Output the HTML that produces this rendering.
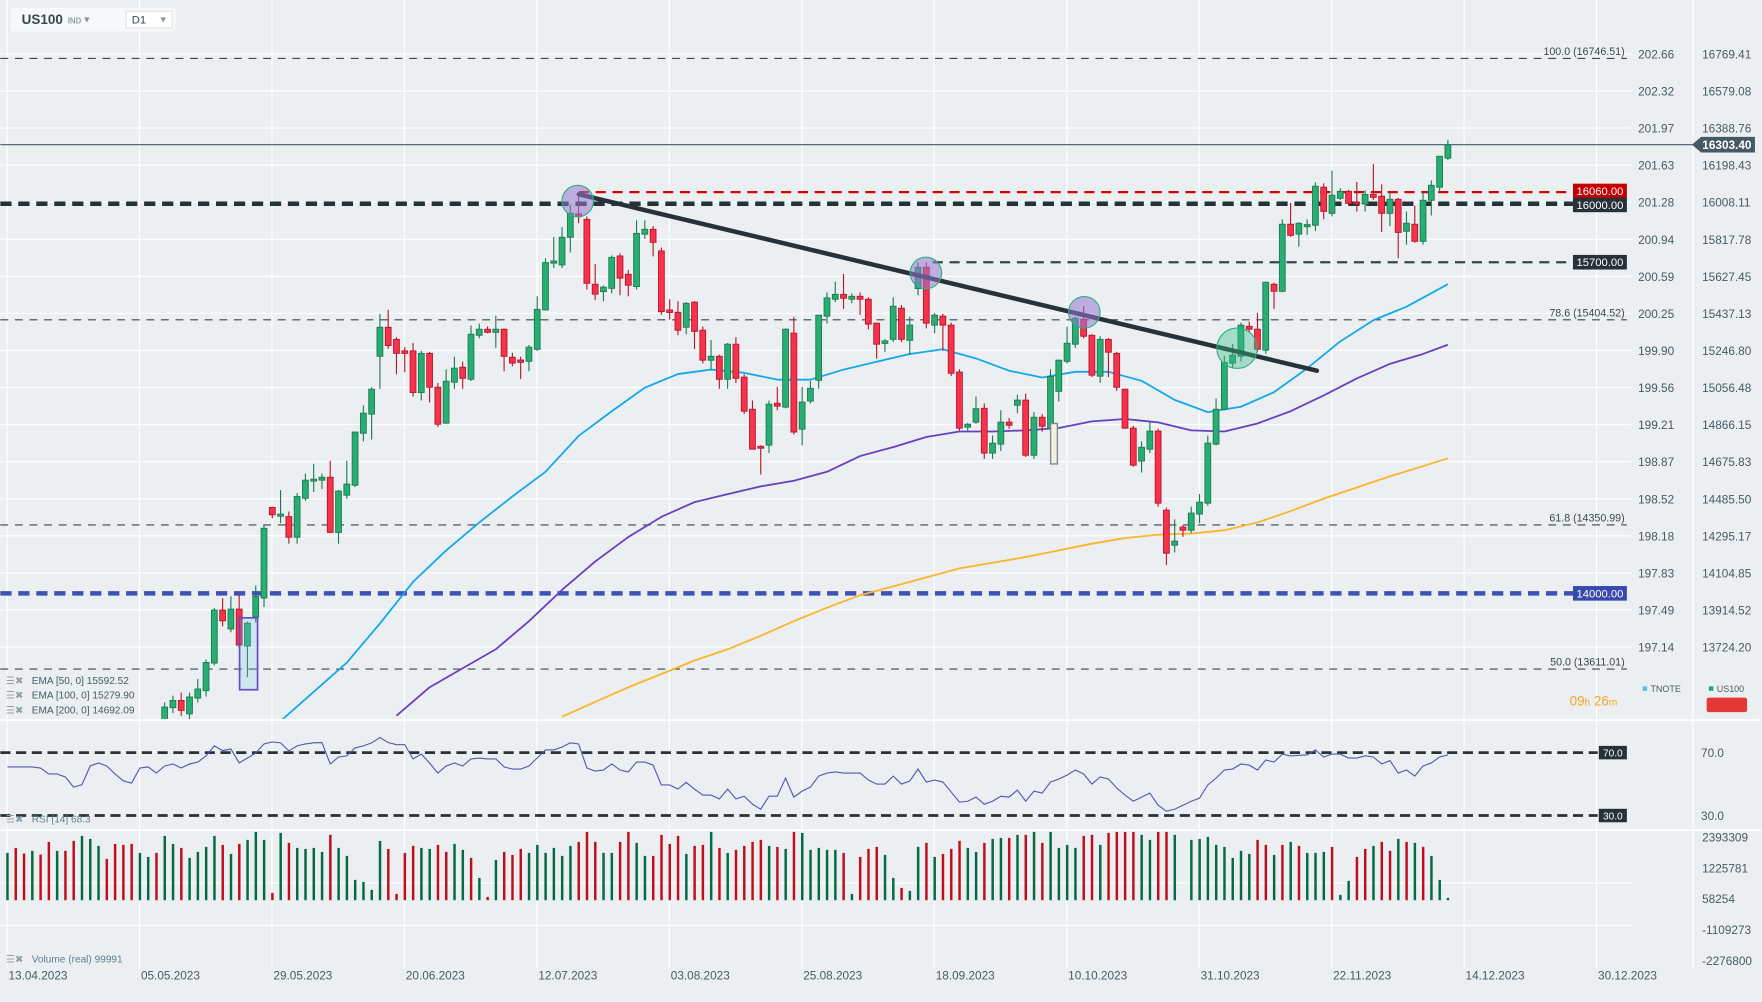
<!DOCTYPE html>
<html><head><meta charset="utf-8">
<style>
html,body{margin:0;padding:0;background:#eceff2;}
svg{display:block;font-family:"Liberation Sans",sans-serif;}
</style></head>
<body>
<svg id="chart" width="1762" height="1002" viewBox="0 0 1568 892" xmlns="http://www.w3.org/2000/svg">
<rect x="0" y="0" width="1568" height="892" fill="#eceff2"/>
<defs>
<clipPath id="mainClip"><rect x="0" y="0" width="1452" height="640"/></clipPath>
</defs>
<g id="grid"></g>
<g id="levels"></g>
<g id="emas" clip-path="url(#mainClip)"></g>
<g id="candles" clip-path="url(#mainClip)"></g>
<g id="annot">
  <line x1="515" y1="173" x2="1172" y2="330" stroke="#263238" stroke-width="4" stroke-linecap="round"/>
  <circle cx="514" cy="179" r="14" fill="rgba(150,120,210,0.55)" stroke="#2bb07f" stroke-width="1"/>
  <circle cx="824" cy="243" r="14" fill="rgba(150,120,210,0.55)" stroke="#2bb07f" stroke-width="1"/>
  <circle cx="965" cy="278" r="14" fill="rgba(150,120,210,0.55)" stroke="#2bb07f" stroke-width="1"/>
  <circle cx="1101" cy="310" r="18" fill="rgba(60,190,140,0.4)" stroke="#2bb07f" stroke-width="1"/>
  <rect x="213" y="550" width="16" height="64" fill="rgba(120,200,230,0.25)" stroke="#6a48c0" stroke-width="1.5"/>
  <rect x="935" y="377" width="6" height="36" fill="#f3f0dc" stroke="#7a8890" stroke-width="1.2"/>
</g>
<g id="rsi"></g>
<g id="volume"></g>
<g id="axes"></g>
<g>
  <rect x="9" y="7" width="147" height="21" rx="2" fill="#f7f8f9"/>
  <text x="19" y="21.5" font-size="12" font-weight="bold" fill="#37474f">US100</text>
  <text x="60" y="21" font-size="7" font-weight="bold" fill="#90a0a8">IND</text>
  <text x="73" y="20" font-size="8" fill="#8a959b">▼</text>
  <rect x="112" y="10" width="41" height="15" fill="#fff" stroke="#dde2e6"/>
  <text x="117" y="21" font-size="10" fill="#37474f">D1</text>
  <text x="141" y="20" font-size="8" fill="#8a959b">▼</text>
</g>
<g font-size="9" fill="#455a64">
  <text x="5" y="609" fill="#90a0a8">☰✖</text><text x="28" y="609">EMA [50, 0] 15592.52</text>
  <text x="5" y="622" fill="#90a0a8">☰✖</text><text x="28" y="622">EMA [100, 0] 15279.90</text>
  <text x="5" y="635" fill="#90a0a8">☰✖</text><text x="28" y="635">EMA [200, 0] 14692.09</text>
</g>
<g>
  <rect x="1462" y="611" width="4" height="4" fill="#4fc3f7"/>
  <text x="1469" y="616" font-size="8" fill="#455a64">TNOTE</text>
  <rect x="1521" y="611" width="4" height="4" fill="#1fa971"/>
  <text x="1528" y="616" font-size="8" fill="#455a64">US100</text>
  <rect x="1519" y="621" width="36" height="13" rx="2" fill="#e53935"/>
  <text x="1397" y="628" font-size="12" fill="#f5a623">09<tspan font-size="9">h</tspan> 26<tspan font-size="9">m</tspan></text>
</g>
<text x="28" y="732" font-size="9" fill="#607d8b">RSI [14] 68.3</text>
<text x="5" y="732" font-size="9" fill="#90a0a8">☰✖</text>
<text x="28" y="857" font-size="9" fill="#607d8b">Volume (real) 99991</text>
<text x="5" y="857" font-size="9" fill="#90a0a8">☰✖</text>
</svg>
<script>
// ---- data ----
const candleOpen = [13338,13413,13450,13381,13462,13500,13642,13914,13817,13919,13729,13878,13976,14441,14396,14394,14288,14488,14576,14581,14596,14313,14504,14555,14822,14920,15217,15366,15304,15245,15245,15031,15232,15058,14874,15084,15161,15099,15325,15356,15340,15356,15212,15198,15191,15253,15455,15695,15686,15828,15948,15920,15587,15549,15566,15732,15638,15575,15844,15869,15758,15455,15443,15366,15495,15351,15197,15217,15099,15279,15110,14945,14755,14761,14976,14956,15336,14843,14987,15094,15423,15510,15535,15510,15525,15510,15387,15283,15304,15464,15299,15565,15674,15377,15423,15377,15136,14853,14879,14950,14720,14766,14879,14966,14992,14709,14904,14848,15037,15191,15279,15407,15325,15115,15304,15232,15048,14848,14679,14740,14833,14427,14247,14340,14324,14407,14463,14766,14945,15182,15217,15371,15356,15248,15587,15551,15895,15844,15882,15890,16085,15951,16028,16064,16008,15999,16048,16039,15951,16023,15859,15895,15807,16018,16085,16234];
const candleClose = [13416,13450,13399,13468,13509,13645,13914,13859,13919,13734,13847,13984,14334,14403,14407,14288,14497,14581,14586,14596,14313,14525,14561,14828,14925,15048,15366,15272,15232,15232,15031,15232,15058,14868,15089,15156,15104,15330,15356,15340,15356,15217,15182,15186,15264,15458,15698,15706,15828,15951,15934,15592,15536,15572,15725,15618,15582,15848,15869,15802,15446,15442,15351,15489,15345,15197,15217,15099,15279,15104,14935,14740,14745,14971,14961,15356,14828,14982,15053,15428,15517,15535,15515,15525,15510,15382,15279,15296,15474,15304,15377,15674,15387,15428,15377,15130,14848,14868,14948,14720,14771,14879,14863,14992,14709,14904,14858,15113,15197,15284,15412,15320,15120,15304,15238,15058,14848,14658,14750,14833,14463,14206,14268,14324,14412,14468,14771,14945,15186,15223,15377,15356,15253,15597,15551,15895,15838,15900,15893,16090,15961,16044,16064,16002,15999,16048,16033,15951,16023,15853,15900,15807,16018,16095,16244,16303];
const candleHigh = [13440,13475,13490,13490,13560,13660,13925,13975,13985,13995,13855,14040,14350,14445,14530,14420,14515,14615,14665,14615,14680,14530,14680,14830,14965,15058,15435,15455,15315,15265,15285,15245,15240,15080,15150,15215,15190,15375,15385,15370,15425,15360,15235,15215,15275,15525,15720,15830,15880,15995,16057,15935,15690,15580,15735,15745,15660,15915,15915,15885,15775,15510,15500,15495,15500,15370,15300,15225,15285,15315,15125,14990,14760,14990,15060,15360,15420,15060,15090,15430,15545,15600,15640,15540,15545,15520,15390,15305,15520,15480,15420,15700,15700,15440,15435,15390,15150,14875,15010,14975,14810,14940,14900,15020,15025,14930,14920,15150,15200,15370,15420,15475,15330,15320,15310,15240,15050,14860,14780,14880,14845,14440,14380,14350,14445,14510,14810,15000,15220,15280,15390,15395,15440,15600,15595,15920,16005,15905,15920,16110,16105,16170,16080,16072,16112,16070,16204,16100,16060,16030,15960,15990,16060,16120,16245,16328];
const candleLow = [13300,13385,13370,13350,13440,13470,13630,13830,13800,13720,13570,13850,13930,14385,14360,14255,14255,14475,14520,14535,14310,14255,14485,14545,14780,14790,15050,15255,15125,15135,15010,14990,14980,14855,14870,15050,15050,15090,15310,15335,15260,15140,15165,15100,15140,15245,15455,15670,15670,15750,15900,15560,15505,15500,15540,15530,15525,15560,15820,15730,15430,15405,15325,15330,15255,15180,15150,15050,15050,15080,14920,14740,14610,14720,14940,14950,14815,14760,14975,15050,15385,15495,15460,15490,15430,15355,15205,15240,15290,15290,15225,15530,15360,15335,15245,15115,14835,14835,14870,14690,14690,14730,14845,14925,14700,14690,14830,14845,14985,15180,15260,15310,15110,15080,15110,15040,14845,14650,14620,14720,14445,14146,14210,14290,14310,14360,14450,14760,14940,15160,15190,15340,15240,15230,15460,15545,15830,15780,15840,15860,15920,15935,16020,15995,15960,15960,16020,15855,15885,15720,15790,15800,15790,15940,16060,16225];
// EMA sampled at candle indices
const emaIdx50 = [14,18,22,26,30,34,38,42,46,50,54,58,62,66,70,74,78,82,86,90,94,98,102,106,110,114,118,122,126,130,134,138,142,146,150,155];
const ema50 = [13344,13494,13644,13845,14059,14220,14364,14497,14624,14808,14935,15056,15126,15149,15132,15097,15097,15149,15189,15229,15253,15206,15143,15108,15137,15137,15091,14993,14930,14958,15033,15155,15293,15402,15472,15587];
const emaIdx100 = [28,32,36,40,44,48,52,56,60,64,68,72,76,80,84,88,92,96,100,104,108,112,116,120,124,128,132,136,140,144,148,152,155];
const ema100 = [13372,13517,13615,13713,13857,14018,14163,14289,14393,14468,14509,14549,14578,14624,14705,14751,14803,14831,14831,14837,14849,14883,14895,14878,14837,14831,14872,14935,15016,15103,15178,15229,15276];
const emaIdx200 = [48,52,56,60,64,68,72,76,80,84,88,92,96,100,104,108,112,116,120,124,128,132,136,140,144,148,152,155];
const ema200 = [13367,13442,13517,13586,13655,13713,13782,13857,13926,13990,14036,14082,14128,14157,14186,14220,14255,14284,14301,14307,14324,14364,14422,14486,14543,14601,14653,14693];
// volume (thousands), first bar index -19
const volStart = -19;
const volumes = [1789,1978,1764,1865,1726,2205,1865,1865,2243,2432,2318,2054,1562,2129,2092,2129,1789,1638,1789,2432,2129,1978,1600,1827,2016,2432,2092,1751,2129,2281,2583,2281,277,2545,2167,1978,1940,1978,1827,2470,1978,1676,769,693,391,2243,1940,239,1789,2054,1978,1940,2092,1827,2129,1903,1600,844,126,1525,1827,1714,1940,1789,2092,1789,1978,1676,2054,2205,2583,2205,1789,1789,2205,2583,2167,1676,1676,2470,2129,2432,1751,2054,2092,2583,1978,1789,1903,
2054,2205,2281,2054,2016,1940,2583,2545,1903,1978,1903,1903,1789,239,1638,1940,2016,1714,844,466,353,2016,2167,1638,1751,1940,2243,1978,1827,2167,2318,2356,2356,2470,2470,2583,2167,2583,1978,2092,1978,2432,2470,2092,2545,2583,2583,2583,2470,2281,2583,2583,2470,0,2281,2318,2394,2092,2016,1600,1865,1751,2281,2092,1714,2092,2205,2054,1789,1789,1827,2016,202,731,1638,1940,2054,2205,1865,2318,2205,2167,2016,1676,769,88];
const volDir = "GRRGRRGRRGGGRRRRGGRGGRGGGGRGRGGGRGRGGGGRGGGGGGRRRRGGRRGGRGRGRRRGGGGGGRRRGGRRGGRRRRGRRGRGR"+"RRRGRGRGGGGGRGRRRGGRGGRGRRRGGRGGRGRGRGGGGRRGRRRRGGRRGGGGGGGGGGRRGRGRGGGRGGRRGRRGRGRGGGG";
const rsiStart = -19;
const rsiValues = [60.9,60.9,60.9,60.9,60.2,56.4,56.4,54.5,48.1,49.6,61.5,63.4,61.5,56.4,52.1,50.6,60.2,60.9,57.0,61.5,62.8,60.2,62.8,64.0,67.9,74.3,71.3,72.3,63.4,66.6,69.8,75.5,76.8,76.2,71.1,74.3,75.5,76.2,76.4,62.8,67.2,67.9,73.0,74.3,76.2,79.6,76.4,75.1,75.1,66.0,69.1,63.4,57.0,61.5,63.4,61.5,66.0,66.6,66.0,66.0,60.9,59.6,59.6,61.5,66.6,71.7,71.7,73.6,76.2,75.5,60.2,58.3,58.9,62.8,58.9,57.7,64.0,64.0,62.1,49.4,49.4,46.8,51.1,46.8,43.0,43.0,40.6,46.8,40.6,
42.3,37.2,34.0,42.3,42.3,53.8,41.7,45.5,48.1,55.1,57.0,57.7,57.0,57.0,57.0,52.6,50.0,50.0,55.1,50.0,51.9,59.6,51.3,52.6,51.3,44.9,38.5,39.1,41.7,37.2,39.1,42.3,41.7,46.2,39.1,45.5,44.3,51.3,53.2,55.7,58.9,56.4,50.0,54.5,53.2,47.4,43.0,39.1,41.7,44.3,36.6,32.8,34.0,36.6,39.1,41.1,49.4,53.8,58.9,59.6,62.8,62.1,58.9,65.3,64.0,69.1,67.9,68.3,68.5,71.7,67.2,69.1,69.1,66.6,66.6,67.9,67.2,62.8,64.9,57.0,58.9,55.1,61.5,63.4,67.2,68.5];
const dateLabels = ["13.04.2023","05.05.2023","29.05.2023","20.06.2023","12.07.2023","03.08.2023","25.08.2023","18.09.2023","10.10.2023","31.10.2023","22.11.2023","14.12.2023","30.12.2023"];
const priceTicks = [16769.41,16579.08,16388.76,16198.43,16008.11,15817.78,15627.45,15437.13,15246.80,15056.48,14866.15,14675.83,14485.50,14295.17,14104.85,13914.52,13724.20];
const tnoteTicks = ["202.66","202.32","201.97","201.63","201.28","200.94","200.59","200.25","199.90","199.56","199.21","198.87","198.52","198.18","197.83","197.49","197.14"];
const volTicks = [2393309,1225781,58254,-1109273,-2276800];

// ---- scales ----
const NS="http://www.w3.org/2000/svg";
function xi(i){return 146.3+7.37*i;}
function yP(p){return 48+(16769.41-p)*0.173392;}
function yR(r){return 670+(70-r)*1.4;}
function yV(vk){return 801.4-vk*0.023554;}
function mk(tag,attrs,parent){const e=document.createElementNS(NS,tag);for(const k in attrs)e.setAttribute(k,attrs[k]);parent.appendChild(e);return e;}
const G=id=>document.getElementById(id);

// grid
const grid=G('grid');
for(let k=0;k<dateLabels.length;k++){
  const x=xi(-19+16*k)-0.3;
  const l=mk('line',{x1:x,y1:0,x2:x,y2:862,stroke:'#ffffff','stroke-width':1},grid);
  
  
}
priceTicks.forEach(p=>{
  const y=yP(p);
  const l=mk('line',{x1:0,y1:y,x2:1452,y2:y,stroke:'#ffffff','stroke-width':1},grid);
  
  
});
[[0,1507,0,862]].forEach(a=>{const l=mk('line',{x1:1507,y1:0,x2:1507,y2:862,stroke:'#ffffff'},grid);});
const sep1=mk('line',{x1:0,y1:641,x2:1568,y2:641,stroke:'#ffffff','stroke-width':1.5},grid);


const sep2=mk('line',{x1:0,y1:739,x2:1568,y2:739,stroke:'#ffffff','stroke-width':1.5},grid);


[786,824].forEach(y=>{const l=mk('line',{x1:0,y1:y,x2:1452,y2:y,stroke:'#ffffff'},grid);});

// levels
const lv=G('levels');
function hline(y,x1,x2,color,w,dash,name){
  const l=mk('line',{x1:x1,y1:y,x2:x2,y2:y,stroke:color,'stroke-width':w,'stroke-dasharray':dash},lv);
  
  
}
function tag(y,x,w,bg,txt,name){
  const g=mk('g',{},lv);
  
  
  mk('rect',{x:x,y:y-6.5,width:w,height:13,fill:bg},g);
  const t=mk('text',{x:x+w/2,y:y+3.5,'text-anchor':'middle','font-size':10,fill:'#fff'},g);t.textContent=txt;
}
function ltext(y,x,txt,name){
  const t=mk('text',{x:x,y:y-3,'text-anchor':'end','font-size':9.5,fill:'#37474f'},lv);t.textContent=txt;
  
  
}
hline(yP(16746.51),0,1448,'#37474f',1,'7,6','fib-100-line');ltext(yP(16746.51),1446,'100.0 (16746.51)','fib-100-label');
hline(yP(15404.52),0,1448,'#37474f',1,'7,6','fib-786-line');ltext(yP(15404.52),1446,'78.6 (15404.52)','fib-786-label');
hline(yP(14350.99),0,1448,'#37474f',1,'7,6','fib-618-line');ltext(yP(14350.99),1446,'61.8 (14350.99)','fib-618-label');
hline(yP(13611.01),0,1448,'#37474f',1,'7,6','fib-50-line');ltext(yP(13611.01),1446,'50.0 (13611.01)','fib-50-label');
hline(yP(16060),515,1400,'#d50000',2,'9,6','resistance-16060-line');
hline(yP(15700),830,1400,'#37474f',2,'9,6','level-15700-line');
hline(yP(16000),0,1400,'#263238',4,'10,6','level-16000-line');
hline(yP(14000),0,1400,'#3f51b5',4,'10,6','level-14000-line');
tag(yP(16060)-1,1400,48,'#c40000','16060.00','tag-16060');
tag(yP(16000)+1,1400,48,'#263238','16000.00','tag-16000');
tag(yP(15700),1400,48,'#263238','15700.00','tag-15700');
tag(yP(14000),1400,48,'#3949ab','14000.00','tag-14000');
hline(yP(16303.4),0,1508,'#455a64',1,'none','last-price-line');
{
  const y=yP(16303.4);const g=mk('g',{},lv);
  
  
  mk('path',{d:`M1506 ${y} L1514 ${y-7} L1562 ${y-7} L1562 ${y+7} L1514 ${y+7} Z`,fill:'#455a64'},g);
  const t=mk('text',{x:1537,y:y+4,'text-anchor':'middle','font-size':10.5,'font-weight':'bold',fill:'#fff'},g);t.textContent='16303.40';
}

// EMAs
const eg=G('emas');
function emaLine(idx,vals,color,name){
  const pts=idx.map((i,k)=>xi(i).toFixed(1)+','+yP(vals[k]).toFixed(1)).join(' ');
  const p=mk('polyline',{points:pts,fill:'none',stroke:color,'stroke-width':1.6,'stroke-linejoin':'round'},eg);
  
  
}
emaLine(emaIdx200,ema200,'#fbb52a','ema-200-line');
emaLine(emaIdx100,ema100,'#6a3fbf','ema-100-line');
emaLine(emaIdx50,ema50,'#12a9ea','ema-50-line');

// candles
const cg=G('candles');
for(let i=0;i<candleOpen.length;i++){
  const o=candleOpen[i],c=candleClose[i],h=candleHigh[i],l=candleLow[i];
  const up=c>=o;const x=xi(i);
  const g=mk('g',{},cg);
  
  
  const st=up?'#1c7a50':'#b8142b', fl=up?'#28ad72':'#f5334a';
  mk('line',{x1:x,y1:yP(h),x2:x,y2:yP(l),stroke:st,'stroke-width':1},g);
  const yt=Math.min(yP(o),yP(c)),yb=Math.max(yP(o),yP(c));
  mk('rect',{x:x-2.6,y:yt,width:5.2,height:Math.max(1.2,yb-yt),fill:fl,stroke:st,'stroke-width':0.8},g);
}

// RSI
const rg=G('rsi');
const r70=mk('line',{x1:0,y1:yR(70),x2:1422,y2:yR(70),stroke:'#263238','stroke-width':2.5,'stroke-dasharray':'9,5'},rg);


const r30=mk('line',{x1:0,y1:yR(30),x2:1422,y2:yR(30),stroke:'#263238','stroke-width':2.5,'stroke-dasharray':'9,5'},rg);


const rpts=rsiValues.map((v,k)=>xi(rsiStart+k).toFixed(1)+','+yR(v).toFixed(1)).join(' ');
const rl=mk('polyline',{points:rpts,fill:'none',stroke:'#4f5bb0','stroke-width':1},rg);


[[70,'70.0'],[30,'30.0']].forEach(([v,t])=>{
  const g=mk('g',{},rg);
  
  
  mk('rect',{x:1423,y:yR(v)-6,width:25,height:12,fill:'#263238'},g);
  const tx=mk('text',{x:1435.5,y:yR(v)+3.5,'text-anchor':'middle','font-size':9,fill:'#fff'},g);tx.textContent=t;
  const ax=mk('text',{x:1514,y:yR(v)+4,'font-size':10.5,fill:'#455a64'},rg);ax.textContent=t;
  
  
});

// Volume
const vg=G('volume');
for(let k=0;k<volumes.length;k++){
  const x=xi(volStart+k);const y=yV(volumes[k]);
  const b=mk('rect',{x:x-1,y:y,width:2.2,height:Math.max(0,801.4-y),fill:volDir[k]==='G'?'#056b43':'#c00f1a'},vg);
  
  
}

// axes labels
const ax=G('axes');
priceTicks.forEach((p,k)=>{
  const y=yP(p)+4;
  const a=mk('text',{x:1458,y:y,'font-size':10.5,fill:'#455a64'},ax);a.textContent=tnoteTicks[k];
  
  
  const b=mk('text',{x:1515,y:y,'font-size':10.5,fill:'#455a64'},ax);b.textContent=p.toFixed(2);
  
  
});
volTicks.forEach(v=>{
  const y=yV(v/1000)+4;
  const t=mk('text',{x:1515,y:y,'font-size':10.5,fill:'#455a64'},ax);t.textContent=String(v);
  
  
});
dateLabels.forEach((d,k)=>{
  const x=xi(-19+16*k)+1;
  const t=mk('text',{x:x,y:872,'font-size':10.5,fill:'#455a64'},ax);t.textContent=d;
  
  
});
</script>
</body></html>
